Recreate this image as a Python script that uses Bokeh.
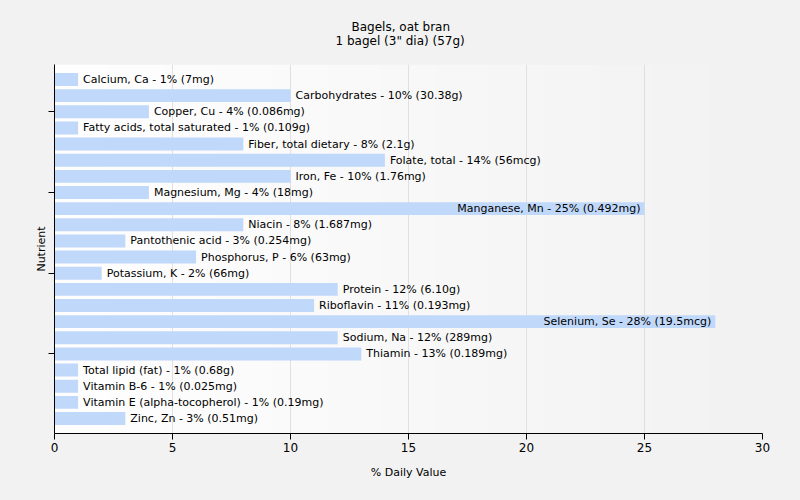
import numpy as np
from bokeh.plotting import figure
from bokeh.models import ColumnDataSource, Range1d, FixedTicker, Title
from bokeh.core.properties import value
from bokeh.embed import file_html
from bokeh.resources import INLINE

nutrients = ["Calcium, Ca", "Carbohydrates", "Copper, Cu", "Fatty acids, total saturated",
             "Fiber, total dietary", "Folate, total", "Iron, Fe", "Magnesium, Mg",
             "Manganese, Mn", "Niacin", "Pantothenic acid", "Phosphorus, P",
             "Potassium, K", "Protein", "Riboflavin", "Selenium, Se", "Sodium, Na",
             "Thiamin", "Total lipid (fat)", "Vitamin B-6", "Vitamin E (alpha-tocopherol)",
             "Zinc, Zn"]
daily_pct = [1, 10, 4, 1, 8, 14, 10, 4, 25, 8, 3, 6, 2, 12, 11, 28, 12, 13, 1, 1, 1, 3]
amounts = ["7mg", "30.38g", "0.086mg", "0.109g", "2.1g", "56mcg", "1.76mg", "18mg",
           "0.492mg", "1.687mg", "0.254mg", "63mg", "66mg", "6.10g", "0.193mg",
           "19.5mcg", "289mg", "0.189mg", "0.68g", "0.025mg", "0.19mg", "0.51mg"]
y_ticks = [2, 7, 12, 17]
x_ticks = [0, 5, 10, 15, 20, 25, 30]
title_main = "Bagels, oat bran"
title_sub = "1 bagel (3\" dia) (57g)"

FONT = "DejaVu Sans"
BG = "#f2f2f2"
BAR = "#c0d8fa"

idx = list(range(len(nutrients)))
labels = [f"{n} - {v}% ({a})" for n, v, a in zip(nutrients, daily_pct, amounts)]
inside = [v >= 20 for v in daily_pct]

out_src = ColumnDataSource(dict(
    y=[i for i, f in zip(idx, inside) if not f],
    x=[v for v, f in zip(daily_pct, inside) if not f],
    t=[l for l, f in zip(labels, inside) if not f]))
in_src = ColumnDataSource(dict(
    y=[i for i, f in zip(idx, inside) if f],
    x=[v for v, f in zip(daily_pct, inside) if f],
    t=[l for l, f in zip(labels, inside) if f]))
bar_src = ColumnDataSource(dict(y=idx, right=daily_pct))

y0, y1 = -0.93, len(nutrients) - 1 + 0.93
W, H = 800, 500
p = figure(width=W, height=H, output_backend="svg", toolbar_location=None,
           x_range=Range1d(0, 30), y_range=Range1d(y1, y0),
           min_border_left=54, min_border_right=38, min_border_top=64, min_border_bottom=67)
p.frame_width = 708
p.frame_height = 369
p.background_fill_color = BG
p.border_fill_color = BG
p.outline_line_color = None

# background gradient of the plotting area
n = 256
grad = np.linspace(255, 242, n).astype(np.uint8)
img = np.zeros((1, n), dtype=np.uint32)
view = img.view(dtype=np.uint8).reshape((1, n, 4))
view[0, :, 0] = grad
view[0, :, 1] = grad
view[0, :, 2] = grad
view[0, :, 3] = 255
p.image_rgba(image=[img], x=0, y=y0, dw=30, dh=y1 - y0, level="image")

p.hbar(y="y", right="right", left=0, height=0.8, source=bar_src,
       fill_color=BAR, line_color=None)

p.text(x="x", y="y", text="t", source=out_src, x_offset=5,
       text_align="left", text_baseline="middle", text_font=value(FONT),
       text_font_size="11px", text_color="#000000")
p.text(x="x", y="y", text="t", source=in_src, x_offset=-4,
       text_align="right", text_baseline="middle", text_font=value(FONT),
       text_font_size="11px", text_color="#000000")

p.xgrid.ticker = FixedTicker(ticks=x_ticks)
p.xgrid.grid_line_color = "#e0e0e0"
p.ygrid.grid_line_color = None

p.xaxis.ticker = FixedTicker(ticks=x_ticks)
p.xaxis.axis_label = "% Daily Value"
p.yaxis.ticker = FixedTicker(ticks=y_ticks)
p.yaxis.major_label_overrides = {t: "" for t in y_ticks}
p.yaxis.axis_label = "Nutrient"
for ax in (p.xaxis, p.yaxis):
    ax.axis_line_color = "#000000"
    ax.major_tick_line_color = "#000000"
    ax.major_tick_out = 6
    ax.major_tick_in = 0
    ax.minor_tick_line_color = None
    ax.major_label_text_font = FONT
    ax.major_label_text_font_size = "12px"
    ax.major_label_text_color = "#000000"
    ax.axis_label_text_font = FONT
    ax.axis_label_text_font_size = "11px"
    ax.axis_label_text_font_style = "normal"
    ax.axis_label_text_color = "#000000"
p.yaxis.axis_label_standoff = 1
p.yaxis.major_label_standoff = 0
p.xaxis.major_label_standoff = 3
p.xaxis.axis_label_standoff = 11

p.title = None
p.add_layout(Title(text=title_sub, align="left", offset=281, standoff=34,
                   text_font=FONT, text_font_size="12px", text_font_style="normal",
                   text_color="#000000"), "above")
p.add_layout(Title(text=title_main, align="left", offset=297, standoff=-38,
                   text_font=FONT, text_font_size="12px", text_font_style="normal",
                   text_color="#000000"), "above")

html = file_html(p, INLINE)
html = html.replace("</head>",
                    "<style>html,body{margin:0;padding:0;overflow:hidden;background-color:#f2f2f2;}</style></head>", 1)
open("out.html", "w").write(html)
